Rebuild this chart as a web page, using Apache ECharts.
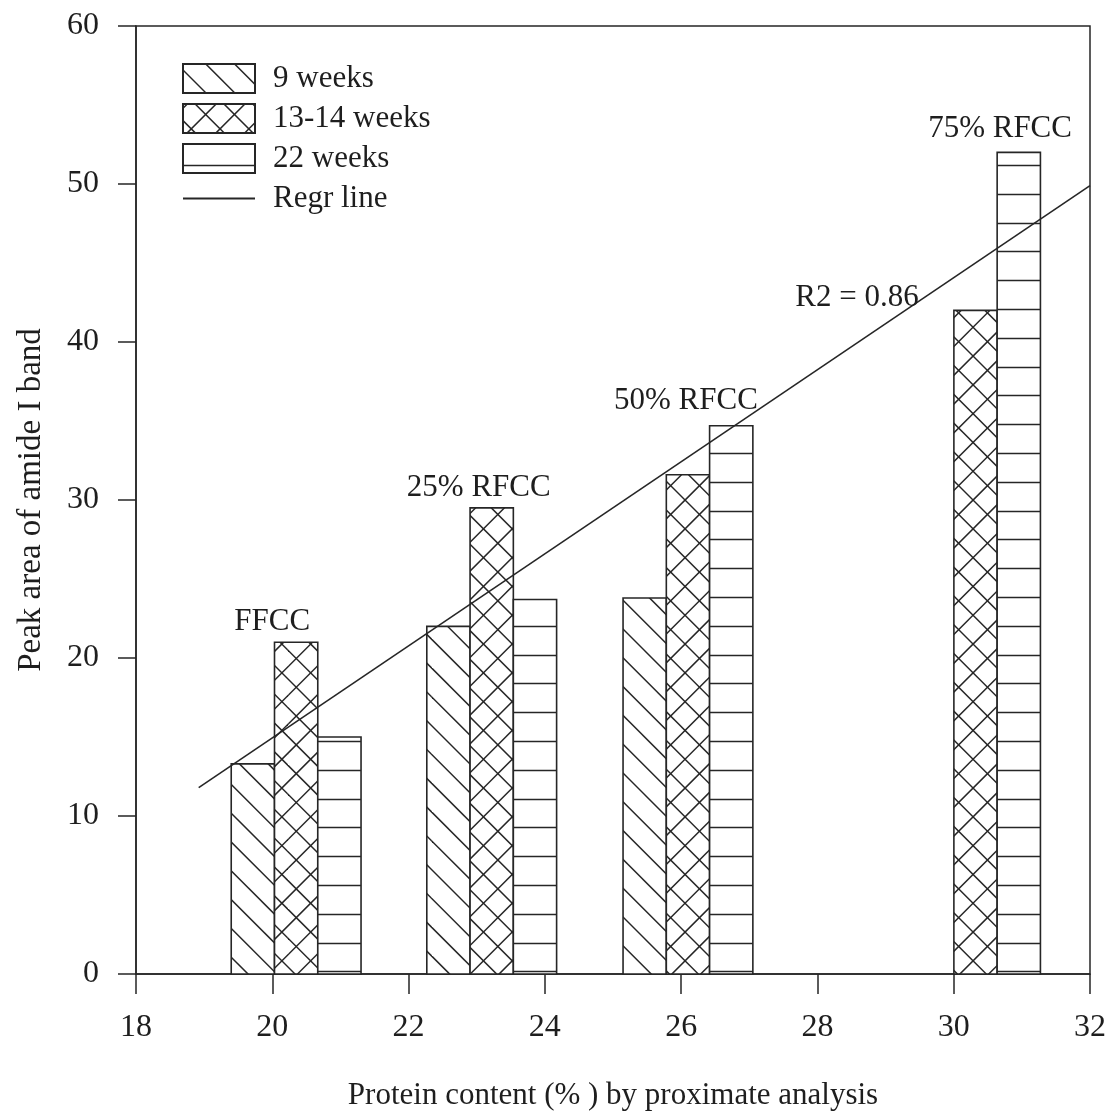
<!DOCTYPE html>
<html>
<head>
<meta charset="utf-8">
<script src="https://cdn.jsdelivr.net/npm/echarts@6/dist/echarts.min.js"></script>
<style>
  html, body { margin: 0; padding: 0; background: #fff; }
  #chart { width: 1109px; height: 1116px; }
</style>
</head>
<body>
<div id="chart"></div>
<script>
// data
const groups = ['FFCC', '25% RFCC', '50% RFCC', '75% RFCC']
const proteinX = [20.35, 23.22, 26.10, 30.32]
const weeks9 = [13.3, 22.0, 23.8, null]
const weeks13 = [21.0, 29.5, 31.6, 42.0]
const weeks22 = [15.0, 23.7, 34.7, 52.0]
const regrX = [18.92, 32]
const regrY = [11.8, 49.9]
const groupLabelX = [20.0, 23.03, 26.07, 30.68]
const groupLabelY = [22.3, 30.8, 36.3, 53.5]
const r2Label = ['R2 = 0.86', 28.58, 42.8]

const BAR_W = 0.635
const INK = '#262626'
const FONT = 'Liberation Serif'

function makePattern(draw) {
  const c = document.createElement('canvas')
  c.width = 144
  c.height = 144
  const ctx = c.getContext('2d')
  ctx.fillStyle = '#fff'
  ctx.fillRect(0, 0, 144, 144)
  ctx.strokeStyle = INK
  ctx.lineWidth = 1.5
  draw(ctx)
  return {image: c, repeat: 'repeat'}
}

const diagPattern = makePattern(function (ctx) {
  // "\" lines at 45 degrees, period 28.8
  for (let k = -12; k <= 12; k++) {
    ctx.beginPath()
    ctx.moveTo(-10, -10 + k * 28.8 + 6)
    ctx.lineTo(154, 154 + k * 28.8 + 6)
    ctx.stroke()
  }
})
const crossPattern = makePattern(function (ctx) {
  for (let k = -12; k <= 12; k++) {
    ctx.beginPath()
    ctx.moveTo(-10, -10 - 12.2 + k * 28.8)
    ctx.lineTo(154, 154 - 12.2 + k * 28.8)
    ctx.stroke()
    ctx.beginPath()
    ctx.moveTo(-10, 10 + 4.3 + k * 28.8)
    ctx.lineTo(154, -154 + 4.3 + k * 28.8)
    ctx.stroke()
  }
})
const horizPattern = makePattern(function (ctx) {
  for (let k = 0; k < 5; k++) {
    const y = Math.round(21 + k * 28.8) + 0.5
    ctx.beginPath()
    ctx.moveTo(0, y)
    ctx.lineTo(144, y)
    ctx.stroke()
  }
})

function barSeries(name, values, k, pattern) {
  const data = []
  values.forEach(function (v, i) {
    if (v != null) data.push([proteinX[i], v])
  })
  return {
    name: name,
    type: 'custom',
    itemStyle: {color: pattern, borderColor: INK, borderWidth: 1.6},
    data: data,
    z: 2,
    renderItem: function (params, api) {
      const c = api.value(0)
      const v = api.value(1)
      const a = api.coord([c + (k - 1.5) * BAR_W, v])
      const b = api.coord([c + (k - 0.5) * BAR_W, 0])
      return {
        type: 'rect',
        shape: {x: a[0], y: a[1], width: b[0] - a[0], height: b[1] - a[1]},
        style: {fill: pattern, stroke: INK, lineWidth: 1.6}
      }
    }
  }
}

const textStyle = {fontFamily: FONT, fontSize: 31, color: '#1e1e1e'}
const tickStyle = {fontFamily: FONT, fontSize: 32, color: '#1e1e1e'}

const labelData = groups.map(function (g, i) {
  return {name: g, value: [groupLabelX[i], groupLabelY[i]]}
})
labelData.push({name: r2Label[0], value: [r2Label[1], r2Label[2]]})

const chart = echarts.init(document.getElementById('chart'))
const option = {
  backgroundColor: '#fff',
  animation: false,
  grid: {left: 136, right: 19, top: 26, bottom: 131, show: true, borderColor: INK, borderWidth: 1.5},
  legend: {
    orient: 'vertical',
    left: 177,
    top: 58,
    itemWidth: 72,
    itemHeight: 29,
    itemGap: 9,
    textStyle: Object.assign({}, textStyle, {padding: [0, 0, 0, 13], lineHeight: 29}),
    data: [
      {name: '9 weeks', icon: 'rect'},
      {name: '13-14 weeks', icon: 'rect'},
      {name: '22 weeks', icon: 'rect'},
      {name: 'Regr line', itemStyle: {opacity: 0}}
    ]
  },
  xAxis: {
    type: 'value',
    min: 18,
    max: 32,
    interval: 2,
    name: 'Protein content (% ) by proximate analysis',
    nameLocation: 'middle',
    nameGap: 106,
    nameTextStyle: textStyle,
    axisLine: {lineStyle: {color: INK, width: 1.5}},
    axisTick: {length: 20, lineStyle: {color: INK, width: 1.5}},
    axisLabel: Object.assign({margin: 38}, tickStyle),
    splitLine: {show: false}
  },
  yAxis: {
    type: 'value',
    min: 0,
    max: 60,
    interval: 10,
    name: 'Peak area of amide I band',
    nameLocation: 'middle',
    nameGap: 88,
    nameTextStyle: Object.assign({}, textStyle, {fontSize: 33}),
    axisLine: {lineStyle: {color: INK, width: 1.5}},
    axisTick: {length: 18, lineStyle: {color: INK, width: 1.5}},
    axisLabel: Object.assign({margin: 37}, tickStyle),
    splitLine: {show: false}
  },
  series: [
    barSeries('9 weeks', weeks9, 0, diagPattern),
    barSeries('13-14 weeks', weeks13, 1, crossPattern),
    barSeries('22 weeks', weeks22, 2, horizPattern),
    {
      name: 'Regr line',
      type: 'line',
      symbol: 'none',
      z: 5,
      lineStyle: {color: INK, width: 1.6},
      itemStyle: {color: INK},
      data: regrX.map(function (x, i) { return [x, regrY[i]] })
    },
    {
      name: 'labels',
      type: 'scatter',
      symbolSize: 1,
      itemStyle: {color: 'rgba(0,0,0,0)', opacity: 1},
      z: 6,
      label: Object.assign({show: true, position: 'inside', formatter: '{b}'}, textStyle),
      data: labelData
    }
  ]
}
chart.setOption(option)
</script>
</body>
</html>
